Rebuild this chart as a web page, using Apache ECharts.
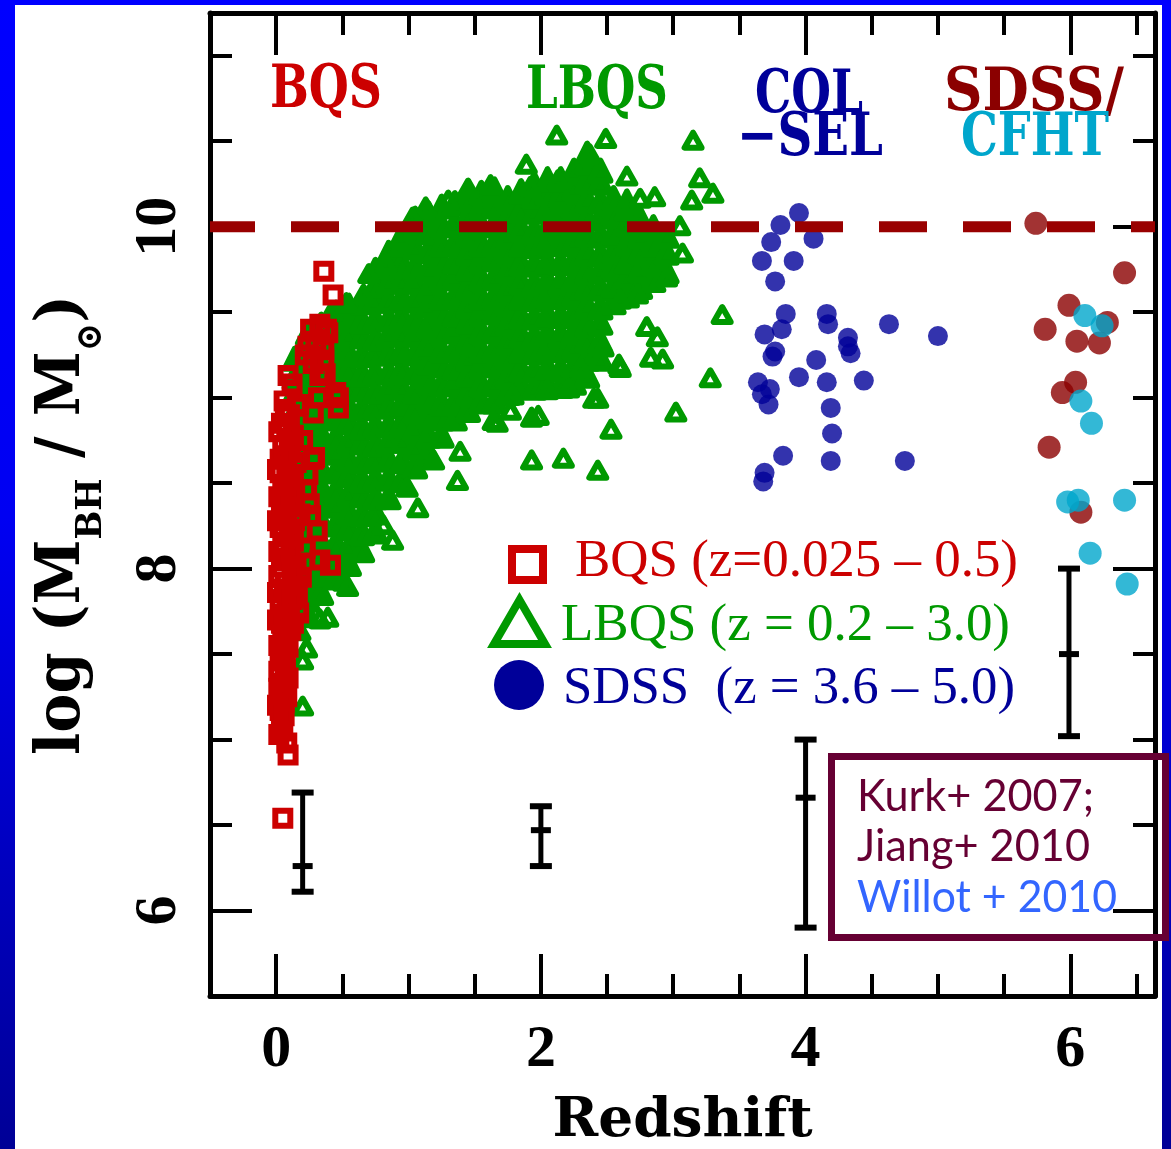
<!DOCTYPE html>
<html><head><meta charset="utf-8">
<script src="https://cdn.jsdelivr.net/npm/echarts@6/dist/echarts.min.js"></script>
<style>
html,body{margin:0;padding:0;width:1171px;height:1149px;overflow:hidden;background:linear-gradient(180deg,#0000ff 0%,#0000f2 45%,#000096 100%);}
#bg{position:absolute;left:15px;top:5px;width:1147px;height:1144px;background:#fff;}
#chart{position:absolute;left:0;top:0;width:1171px;height:1149px;}
</style></head><body><div id="bg"></div><div id="chart"></div>
<script>
// ---------- data ----------
// LBQS dense cloud: each row = [redshift, logM values...]
const lbqsColumns = [
 [0.14, 7.66,7.77,7.86,7.97,8.08,8.17,8.28,8.39,8.48,8.59,8.70,8.79,8.90,9.01,9.10,9.21],
 [0.24, 7.71,7.80,7.91,8.02,8.12,8.21,8.33,8.44,8.53,8.64,8.75,8.84,8.95,9.06,9.15,9.26,9.36],
 [0.34, 7.84,7.95,8.05,8.14,8.26,8.37,8.46,8.57,8.68,8.77,8.88,8.99,9.08,9.19,9.30,9.41],
 [0.45, 7.93,8.03,8.13,8.24,8.35,8.44,8.55,8.66,8.75,8.86,8.97,9.06,9.17,9.28,9.37,9.48],
 [0.55, 8.01,8.11,8.22,8.31,8.42,8.53,8.62,8.73,8.84,8.93,9.04,9.15,9.24,9.35,9.44,9.52],
 [0.65, 8.09,8.19,8.30,8.41,8.50,8.61,8.72,8.81,8.92,9.03,9.12,9.23,9.34,9.43,9.54],
 [0.75, 8.20,8.31,8.40,8.51,8.62,8.71,8.82,8.93,9.02,9.13,9.24,9.33,9.44,9.55,9.64,9.73],
 [0.85, 8.40,8.51,8.62,8.73,8.82,8.93,9.04,9.13,9.24,9.35,9.44,9.55,9.66,9.75,9.83],
 [0.95, 8.50,8.61,8.73,8.84,8.95,9.04,9.15,9.26,9.35,9.46,9.57,9.66,9.77,9.88,9.93],
 [1.05, 8.58,8.69,8.80,8.91,9.02,9.13,9.24,9.35,9.44,9.55,9.66,9.75,9.86,9.97,10.03],
 [1.15, 8.66,8.76,8.87,8.98,9.08,9.19,9.30,9.41,9.52,9.62,9.73,9.84,9.95,10.06],
 [1.25, 8.76,8.86,8.95,9.06,9.17,9.26,9.37,9.48,9.57,9.68,9.79,9.88,9.99,10.10],
 [1.35, 8.86,8.96,9.07,9.16,9.27,9.38,9.47,9.58,9.69,9.78,9.89,10.00,10.12],
 [1.45, 8.91,9.01,9.12,9.21,9.32,9.43,9.52,9.63,9.74,9.83,9.94,10.05,10.15],
 [1.55, 8.96,9.06,9.17,9.26,9.37,9.48,9.57,9.68,9.79,9.88,9.99,10.10,10.18],
 [1.65, 8.96,9.07,9.18,9.27,9.38,9.49,9.58,9.69,9.80,9.89,10.00,10.11,10.20],
 [1.75, 9.01,9.11,9.22,9.31,9.42,9.53,9.62,9.73,9.84,9.93,10.04,10.15],
 [1.85, 9.05,9.15,9.26,9.35,9.46,9.57,9.66,9.77,9.88,9.97,10.08,10.19],
 [1.95, 9.04,9.14,9.25,9.34,9.45,9.56,9.65,9.76,9.87,9.96,10.07,10.16,10.23],
 [2.05, 9.06,9.16,9.27,9.36,9.47,9.58,9.67,9.78,9.89,9.98,10.09,10.18,10.26],
 [2.15, 9.05,9.15,9.26,9.35,9.46,9.57,9.66,9.77,9.88,9.97,10.08,10.17,10.26],
 [2.25, 9.07,9.17,9.28,9.37,9.48,9.59,9.68,9.79,9.90,9.99,10.10,10.21,10.31],
 [2.35, 9.11,9.21,9.32,9.41,9.52,9.63,9.72,9.83,9.94,10.03,10.14,10.25,10.36,10.41],
 [2.45, 9.21,9.31,9.42,9.51,9.62,9.73,9.82,9.93,10.04,10.13,10.24,10.31],
 [2.55, 9.54,9.64,9.75,9.84,9.95,10.06,10.15],
 [2.65, 9.58,9.69,9.78,9.89,10.00,10.09,10.13],
 [2.75, 9.63,9.73,9.84,9.93,10.03],
 [2.85, 9.67,9.77,9.88,9.98],
 [2.95, 9.72,9.83,9.93]
];
const lbqsOutliers = [
 [2.12,10.53],[2.49,10.51],[3.15,10.50],[1.89,10.36],[3.20,10.28],[3.30,10.19],[3.14,10.15],
 [1.62,10.24],[1.92,10.23],[2.13,10.27],[2.37,10.42],[2.65,10.29],[2.75,10.16],[2.86,10.17],
 [3.05,10.00],[3.07,9.84],[2.95,9.70],[2.73,9.60],[2.60,9.57],[3.37,9.48],[2.80,9.41],
 [2.88,9.35],[2.83,9.23],[2.92,9.22],[2.59,9.19],[3.28,9.11],[2.40,8.99],[3.02,8.91],
 [2.53,8.81],[1.67,8.85],[1.98,8.89],[1.93,8.63],[2.17,8.64],[2.43,8.57],[2.21,9.05],
 [2.05,9.04],[1.79,9.01],[2.47,9.29],[2.30,9.17],[2.60,9.17],
 [1.39,8.68],[1.37,8.51],[1.19,8.63],[1.07,8.35],[0.88,8.16],[0.81,8.25],[0.99,8.47],
 [0.51,7.92],[0.54,7.89],[0.33,7.70],[0.39,7.71],[0.18,7.63],[0.23,7.53],[0.20,7.46],
 [0.20,7.19],[1.64,8.86],[1.77,8.92],[1.93,8.88],[2.43,8.99],
 [1.13,10.11],[1.03,10.05],[0.70,9.72],[0.83,9.78],[0.66,9.60],[0.42,9.50],[0.53,9.55],
 [1.45,10.22],[1.30,10.15]
];
const bqsPoints = [
 [0.36,9.74],[0.43,9.60],[0.26,9.40],[0.33,9.43],[0.38,9.40],[0.39,9.38],[0.24,9.30],
 [0.30,9.33],[0.36,9.28],[0.36,9.22],[0.22,9.25],[0.28,9.20],[0.09,9.13],[0.12,9.08],
 [0.37,9.14],[0.33,9.13],[0.17,8.96],[0.32,9.00],[0.47,9.00],[0.47,8.94],[0.28,8.91],
 [0.16,8.95],[0.45,9.03],
 [0.06,8.98],[0.10,8.90],[0.04,8.85],[0.08,8.82],[0.13,8.78],[0.05,8.72],[0.11,8.68],
 [0.03,8.64],[0.08,8.60],[0.15,8.62],[0.03,8.56],[0.12,8.52],[0.06,8.48],[0.02,8.42],
 [0.10,8.40],[0.04,8.35],[0.18,8.32],[0.08,8.28],[0.03,8.24],[0.05,8.20],[0.13,8.16],
 [0.02,8.10],[0.09,8.06],[0.04,8.01],[0.02,7.96],[0.07,7.92],[0.16,7.85],[0.03,7.82],
 [0.10,7.78],[0.08,7.75],[0.17,7.74],[0.04,7.68],[0.11,7.64],[0.05,7.58],[0.09,7.54],
 [0.03,7.50],[0.05,7.46],[0.02,7.40],[0.05,7.33],[0.03,7.26],[0.06,7.22],[0.03,7.17],
 [0.04,7.10],[0.05,7.05],[0.08,6.98],[0.09,6.91],[0.05,6.54],
 [0.29,8.65],[0.23,8.46],[0.28,8.64],[0.26,8.31],[0.22,8.12],[0.33,8.05],[0.41,8.02],
 [0.20,8.75],[0.24,8.55],[0.31,8.22],[0.25,8.38],[0.14,8.44],[0.15,8.02],[0.19,7.95],
 [0.07,8.93],[0.02,8.80],[0.10,8.74],[0.06,8.66],[0.01,8.58],[0.09,8.52],[0.05,8.45],
 [0.11,8.36],[0.07,8.31],[0.01,8.28],[0.10,8.22],[0.06,8.14],[0.11,8.10],[0.05,8.05],
 [0.12,7.98],[0.06,7.88],[0.01,7.86],[0.12,7.82],[0.06,7.72],[0.01,7.70],[0.08,7.62],
 [0.02,7.55],[0.07,7.44],[0.09,7.36],[0.02,7.30],[0.08,7.25],[0.01,7.20],[0.06,7.14],
 [0.02,7.03],[0.13,8.55],[0.14,8.28],[0.15,7.90],[0.13,7.68]
];
const colselPoints = [
 [3.95,10.08],[3.81,10.01],[4.06,9.93],[3.74,9.91],[3.67,9.80],[3.91,9.80],[3.77,9.68],
 [3.85,9.49],[4.16,9.49],[4.17,9.43],[3.82,9.40],[3.69,9.37],[4.32,9.35],[4.63,9.43],
 [5.00,9.36],[3.77,9.27],[3.75,9.24],[4.08,9.22],[4.34,9.26],[4.32,9.30],[3.95,9.12],
 [4.16,9.09],[4.44,9.10],[3.64,9.09],[3.73,9.05],[3.67,9.02],[3.72,8.96],[4.19,8.94],
 [4.20,8.79],[3.83,8.66],[4.19,8.63],[4.75,8.63],[3.69,8.56],[3.68,8.51]
];
const jiangPoints = [
 [5.74,10.02],[6.41,9.73],[5.99,9.54],[5.81,9.40],[6.28,9.44],[6.05,9.33],[6.22,9.32],
 [6.04,9.09],[5.94,9.03],[5.84,8.71],[6.08,8.33]
];
const willottPoints = [
 [6.11,9.48],[6.24,9.42],[6.08,8.98],[6.16,8.85],[5.98,8.39],[6.06,8.40],[6.41,8.40],
 [6.15,8.09],[6.43,7.91]
];
const errZ    = [0.20, 2.00, 4.00, 5.99];
const errLow  = [6.11, 6.26, 5.90, 7.02];
const errMid  = [6.26, 6.47, 6.66, 7.50];
const errHigh = [6.69, 6.61, 7.00, 8.00];
const massLimit = 10;
const xMajor = [0, 2, 4, 6];
const xMinor = [0.5, 1, 1.5, 2.5, 3, 3.5, 4.5, 5, 5.5, 6.5];
const yMajor = [6, 8, 10];
const yMinor = [6.5, 7, 7.5, 8.5, 9, 9.5, 10.5, 11];
const xRange = [-0.5, 6.64];
const yRange = [5.5, 11.25];
const surveyLabels = ['BQS', 'LBQS', 'COL', '−SEL', 'SDSS/', 'CFHT'];
const legendTexts = ['BQS (z=0.025 – 0.5)', 'LBQS (z = 0.2 – 3.0)', 'SDSS  (z = 3.6 – 5.0)'];
const refTexts = ['Kurk+ 2007;', 'Jiang+ 2010', 'Willot + 2010'];

// ---------- build ----------
const lbqsCore = [];
lbqsColumns.forEach(c => { for (let i = 1; i < c.length; i++) lbqsCore.push([c[0], c[i]]); });

const mctx = document.createElement('canvas').getContext('2d');
function tw(text, font) { mctx.font = font; return mctx.measureText(text).width; }

const serifB = '"DejaVu Serif", serif';
const graphics = [];

// survey labels at top (condensed bold serif)
const lab = [
 {t: surveyLabels[0], c: '#cc0000', x: 270, w: 112, y: 91},
 {t: surveyLabels[1], c: '#009900', x: 526, w: 142, y: 92},
 {t: surveyLabels[2], c: '#000099', x: 755, w: 108, y: 96},
 {t: surveyLabels[3], c: '#000099', x: 737, w: 146, y: 139},
 {t: surveyLabels[4], c: '#8b0000', x: 944, w: 180, y: 94},
 {t: surveyLabels[5], c: '#00a6cc', x: 961, w: 148, y: 139}
];
lab.forEach(l => {
  const nat = tw(l.t, 'bold 60px "DejaVu Serif"');
  graphics.push({type: 'text', x: l.x, y: l.y, scaleX: l.w / nat, z: 100,
    style: {text: l.t, fontSize: 60, fontWeight: 'bold', fontFamily: serifB, fill: l.c, align: 'left', verticalAlign: 'middle'}});
});

// y-axis title (rotated, with subscripts)
(function () {
  const mainF = 'bold 62px "DejaVu Serif"', subF = 'bold 36px "DejaVu Serif"';
  const pieces = [['log (M', 0], ['BH', 1], [' / M', 0], ['⊙', 1], [')', 0]];
  let xx = 0; const ch = [];
  pieces.forEach(p => {
    const sub = p[1] === 1;
    const w = tw(p[0], sub ? subF : mainF);
    ch.push({type: 'text', x: xx, y: sub ? 7 : -22,
      style: {text: p[0], fontSize: sub ? 36 : 62, fontWeight: 'bold', fontFamily: serifB, fill: '#000', align: 'left', verticalAlign: 'middle'}});
    xx += w;
  });
  graphics.push({type: 'group', x: 85, y: 755, rotation: Math.PI / 2, scaleX: 460 / xx, z: 100, children: ch});
})();

// legend block
graphics.push({type: 'rect', z: 100, shape: {x: 512, y: 549, width: 31, height: 31},
  style: {fill: 'none', stroke: '#cc0000', lineWidth: 8}});
graphics.push({type: 'polygon', z: 100, shape: {points: [[519.5, 600], [494, 644], [545, 644]]},
  style: {fill: 'none', stroke: '#009900', lineWidth: 8, lineJoin: 'miter'}});
graphics.push({type: 'circle', z: 100, shape: {cx: 519, cy: 685, r: 25}, style: {fill: '#000099'}});
const legRows = [
 {x: 575, y: 562, c: '#cc0000', w: 443},
 {x: 561, y: 626, c: '#009900', w: 449},
 {x: 563, y: 689, c: '#000099', w: 452}
];
legRows.forEach((r, i) => {
  const nat = tw(legendTexts[i], '53px "Liberation Serif"');
  graphics.push({type: 'text', x: r.x, y: r.y, scaleX: r.w / nat, z: 100,
    style: {text: legendTexts[i], fontSize: 53, fontFamily: '"Liberation Serif", serif', fill: r.c, align: 'left', verticalAlign: 'middle'}});
});

// reference box
graphics.push({type: 'rect', z: 100, shape: {x: 831.5, y: 756.5, width: 334, height: 181},
  style: {fill: 'none', stroke: '#660033', lineWidth: 7}});
const refRows = [
 {y: 797, c: '#660033', w: 237},
 {y: 847, c: '#660033', w: 233},
 {y: 898, c: '#3366ff', w: 260}
];
refRows.forEach((r, i) => {
  const nat = tw(refTexts[i], '44px Lato');
  graphics.push({type: 'text', x: 857, y: r.y, scaleX: r.w / nat, z: 100,
    style: {text: refTexts[i], fontSize: 44, fontFamily: 'Lato, sans-serif', fill: r.c, align: 'left', verticalAlign: 'middle'}});
});

const tickFont = {fontFamily: '"Liberation Serif", serif', fontWeight: 'bold', fontSize: 60, color: '#000'};
const blk = {color: '#000', width: 4};
function xAx(pos, major) {
  return {type: 'value', position: pos, min: xRange[0], max: xRange[1],
    axisLine: {show: major, onZero: false, lineStyle: {color: '#000', width: 5}},
    axisTick: {show: true, inside: true, length: major ? 42 : 22, customValues: major ? xMajor : xMinor, lineStyle: blk},
    axisLabel: (major && pos === 'bottom') ? Object.assign({show: true, customValues: xMajor, margin: 24}, tickFont) : {show: false},
    splitLine: {show: false}, minorTick: {show: false}};
}
function yAx(pos, major) {
  return {type: 'value', position: pos, min: yRange[0], max: yRange[1],
    axisLine: {show: major, onZero: false, lineStyle: {color: '#000', width: 5}},
    axisTick: {show: true, inside: true, length: major ? 42 : 22, customValues: major ? yMajor : yMinor, lineStyle: blk},
    axisLabel: (major && pos === 'left') ? Object.assign({show: true, customValues: yMajor, rotate: 90, margin: 21}, tickFont) : {show: false},
    splitLine: {show: false}, minorTick: {show: false}};
}
const xb = xAx('bottom', true);
xb.name = 'Redshift'; xb.nameLocation = 'middle'; xb.nameGap = 98;
xb.nameTextStyle = {fontFamily: serifB, fontWeight: 'bold', fontSize: 55, color: '#000'};

// markers drawn as custom shapes: thick outline (solid and larger for the crowded core)
function markerItem(kind, color, solid) {
  return function (params, api) {
    const p = api.coord([api.value(0), api.value(1)]);
    if (kind === 'tri') {
      const hw = solid ? 10 : 8.5, up = solid ? 13 : 8.5, dn = solid ? 7 : 6.5;
      return {type: 'polygon', shape: {points: [[p[0], p[1] - up], [p[0] - hw, p[1] + dn], [p[0] + hw, p[1] + dn]]},
        style: {fill: solid ? color : 'none', stroke: color, lineWidth: 6, lineJoin: 'round'}};
    }
    return {type: 'rect', shape: {x: p[0] - 7.5, y: p[1] - 7.5, width: 15, height: 15},
      style: {fill: 'none', stroke: color, lineWidth: 6}};
  };
}

const option = {
  animation: false,
  grid: {left: 210, top: 13, width: 945, height: 983, containLabel: false, outerBoundsMode: 'none'},
  xAxis: [xb, xAx('bottom', false), xAx('top', true), xAx('top', false)],
  yAxis: [yAx('left', true), yAx('left', false), yAx('right', true), yAx('right', false)],
  graphic: graphics,
  series: [
    {name: 'LBQS core', type: 'custom', data: lbqsCore, z: 2, silent: true, encode: {x: 0, y: 1},
      renderItem: markerItem('tri', '#009900', true)},
    {name: 'LBQS', type: 'custom', data: lbqsOutliers, z: 2, silent: true, encode: {x: 0, y: 1},
      renderItem: markerItem('tri', '#009900', false)},
    {name: 'BQS', type: 'custom', data: bqsPoints, z: 3, silent: true, encode: {x: 0, y: 1},
      renderItem: markerItem('sq', '#cc0000', false)},
    {name: 'COL-SEL', type: 'scatter', data: colselPoints, symbol: 'circle', symbolSize: 20, z: 4, silent: true,
      itemStyle: {color: '#000099'}},
    {name: 'Jiang', type: 'scatter', data: jiangPoints, symbol: 'circle', symbolSize: 23, z: 4, silent: true,
      itemStyle: {color: '#8b0000'}},
    {name: 'Willott', type: 'scatter', data: willottPoints, symbol: 'circle', symbolSize: 23, z: 5, silent: true,
      itemStyle: {color: '#00a6cc'}},
    {name: 'limit', type: 'line', data: [[xRange[0], massLimit], [xRange[1], massLimit]], symbol: 'none', z: 6, silent: true,
      lineStyle: {color: '#990000', width: 11, type: [48, 36], dashOffset: 3, cap: 'butt'}},
    {name: 'errors', type: 'custom', z: 7, silent: true,
      data: errZ.map((zv, i) => [zv, errLow[i], errMid[i], errHigh[i]]),
      encode: {x: 0, y: [1, 2, 3]},
      renderItem: function (params, api) {
        const x = api.coord([api.value(0), api.value(1)])[0];
        const yl = api.coord([api.value(0), api.value(1)])[1];
        const ym = api.coord([api.value(0), api.value(2)])[1];
        const yh = api.coord([api.value(0), api.value(3)])[1];
        const hw = 11, st = {stroke: '#000', lineWidth: 5};
        const cs = {stroke: '#000', lineWidth: 6};
        return {type: 'group', children: [
          {type: 'line', shape: {x1: x, y1: yl, x2: x, y2: yh}, style: st},
          {type: 'line', shape: {x1: x - hw, y1: yh, x2: x + hw, y2: yh}, style: cs},
          {type: 'line', shape: {x1: x - hw, y1: yl, x2: x + hw, y2: yl}, style: cs},
          {type: 'line', shape: {x1: x - hw + 1, y1: ym, x2: x + hw - 1, y2: ym}, style: cs}
        ]};
      }}
  ]
};
const chart = echarts.init(document.getElementById('chart'), null, {renderer: 'canvas'});
chart.setOption(option);
</script></body></html>
